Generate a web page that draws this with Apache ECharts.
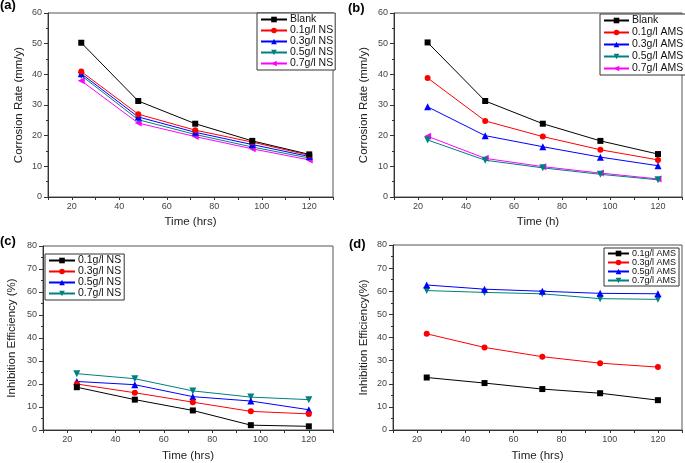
<!DOCTYPE html>
<html>
<head>
<meta charset="utf-8">
<script src="https://cdn.jsdelivr.net/npm/echarts@6/dist/echarts.min.js"></script>
<style>
html,body{margin:0;padding:0;background:#fff;}
#c{width:685px;height:463px;}
</style>
</head>
<body>
<div id="c"></div>
<script>
const times = [24, 48, 72, 96, 120];
const xTicks = [20, 40, 60, 80, 100, 120];

// (a) corrosion rate, NS
const aNames = ['Blank', '0.1g/l NS', '0.3g/l NS', '0.5g/l NS', '0.7g/l NS'];
const aBlank = [50.3, 31.3, 23.9, 18.3, 13.9];
const aNS01 = [40.9, 27.0, 21.8, 17.9, 13.6];
const aNS03 = [40.2, 26.1, 21.1, 17.1, 13.2];
const aNS05 = [39.6, 25.2, 20.4, 16.3, 12.7];
const aNS07 = [37.9, 24.1, 19.7, 15.7, 12.1];

// (b) corrosion rate, AMS
const bNames = ['Blank', '0.1g/l AMS', '0.3g/l AMS', '0.5g/l AMS', '0.7g/l AMS'];
const bBlank = [50.4, 31.3, 23.9, 18.3, 14.0];
const bAMS01 = [38.8, 24.8, 19.7, 15.4, 12.1];
const bAMS03 = [29.4, 20.0, 16.4, 13.0, 10.2];
const bAMS05 = [18.6, 12.0, 9.5, 7.4, 5.6];
const bAMS07 = [19.8, 12.6, 9.9, 7.8, 5.9];

// (c) inhibition efficiency, NS
const cNames = ['0.1g/l NS', '0.3g/l NS', '0.5g/l NS', '0.7g/l NS'];
const cNS01 = [18.6, 13.2, 8.5, 2.1, 1.6];
const cNS03 = [20.0, 16.2, 12.1, 8.1, 7.0];
const cNS05 = [21.1, 19.7, 14.5, 12.6, 8.8];
const cNS07 = [24.5, 22.3, 17.0, 14.3, 13.2];

// (d) inhibition efficiency, AMS
const dNames = ['0.1g/l AMS', '0.3g/l AMS', '0.5g/l AMS', '0.7g/l AMS'];
const dAMS01 = [22.7, 20.3, 17.7, 15.9, 12.9];
const dAMS03 = [41.6, 35.7, 31.7, 28.9, 27.2];
const dAMS05 = [62.7, 60.9, 60.0, 59.1, 58.9];
const dAMS07 = [60.3, 59.5, 58.9, 56.8, 56.5];

const colors = { black: '#000000', red: '#ff0000', blue: '#0000ff', teal: '#008080', magenta: '#ff00ff' };
const styles = [
  { c: colors.black, s: 'rect', r: 0, size: 6 },
  { c: colors.red, s: 'circle', r: 0, size: 6 },
  { c: colors.blue, s: 'triangle', r: 0, size: 7 },
  { c: colors.teal, s: 'triangle', r: 180, size: 7 },
  { c: colors.magenta, s: 'triangle', r: 90, size: 7 }
];

const grids = [
  { left: 48, top: 13, width: 285, height: 184 },
  { left: 394, top: 13, width: 288, height: 184 },
  { left: 43, top: 246, width: 290, height: 188 },
  { left: 393, top: 245, width: 291, height: 188 }
];

function xAxis(i, name, nameGap) {
  return {
    type: 'value', gridIndex: i, min: 10, max: 130, interval: 10,
    name: name, nameLocation: 'middle', nameGap: nameGap,
    nameTextStyle: { fontFamily: 'Liberation Sans', fontSize: 11.5, color: '#222' },
    axisLine: { show: true, lineStyle: { color: '#333', width: 1 } },
    axisTick: { show: true, inside: false, length: 3, lineStyle: { color: '#333' } },
    axisLabel: {
      fontFamily: 'Liberation Sans', fontSize: 9, color: '#444', margin: 5,
      formatter: v => (xTicks.indexOf(v) >= 0 ? String(v) : '')
    },
    splitLine: { show: false }
  };
}
function yAxis(i, max, name, nameGap) {
  return {
    type: 'value', gridIndex: i, min: 0, max: max, interval: 10,
    name: name, nameLocation: 'middle', nameGap: nameGap,
    nameTextStyle: { fontFamily: 'Liberation Sans', fontSize: 11.5, color: '#222' },
    axisLine: { show: true, lineStyle: { color: '#333', width: 1 } },
    axisTick: { show: true, inside: false, length: 4, lineStyle: { color: '#333' } },
    minorTick: { show: true, splitNumber: 2, length: 2, lineStyle: { color: '#333' } },
    axisLabel: { fontFamily: 'Liberation Sans', fontSize: 9, color: '#444', margin: 6 },
    splitLine: { show: false }
  };
}

// series names get a panel prefix so that legends in different panels stay independent
function makeSeries(prefix, names, arrays, gi) {
  return arrays.map((arr, k) => ({
    name: prefix + '|' + names[k], type: 'line', xAxisIndex: gi, yAxisIndex: gi,
    data: times.map((t, j) => [t, arr[j]]),
    symbol: styles[k].s, symbolRotate: styles[k].r, symbolSize: styles[k].size,
    lineStyle: { color: styles[k].c, width: 1 },
    itemStyle: { color: styles[k].c },
    z: 10 - k,
    animation: false
  }));
}

function legend(prefix, names, left, top, fontSize, gap, pad, iw) {
  return {
    data: names.map(n => prefix + '|' + n), orient: 'vertical', left: left, top: top,
    formatter: n => n.split('|')[1],
    itemWidth: iw, itemHeight: 7, itemGap: gap, padding: pad,
    borderColor: '#333', borderWidth: 1, backgroundColor: '#fff',
    textStyle: { fontFamily: 'Liberation Sans', fontSize: fontSize, color: '#111', padding: [0, 0, 0, -2] },
    selectedMode: false
  };
}

const titleStyle = { fontFamily: 'Liberation Sans', fontSize: 13, fontWeight: 'bold', color: '#000' };

const option = {
  backgroundColor: '#fff',
  animation: false,
  grid: grids.map(g => Object.assign({ show: true, borderColor: '#555', borderWidth: 1, backgroundColor: 'transparent' }, g)),
  xAxis: [
    xAxis(0, 'Time (hrs)', 19),
    xAxis(1, 'Time (h)', 19),
    xAxis(2, 'Time (hrs)', 20),
    xAxis(3, 'Time (hrs)', 20)
  ],
  yAxis: [
    yAxis(0, 60, 'Corrosion Rate (mm/y)', 23),
    yAxis(1, 60, 'Corrosion Rate (mm/y)', 24),
    yAxis(2, 80, 'Inhibition Efficiency (%)', 25),
    yAxis(3, 80, 'Inhibition Efficiency(%)', 23)
  ],
  legend: [
    legend('a', aNames, 257, 13, 10.5, 0, [1, 2, 1, 3], 26),
    legend('b', bNames, 600, 14, 10.5, 1, [1, 3, 1, 3], 25),
    legend('c', cNames, 45, 254, 10.5, 0, [1, 3, 1, 3], 26),
    legend('d', dNames, 604, 248, 9, 0, [1, 3, 1, 3], 21)
  ],
  title: [
    { text: '(a)', left: 0, top: -1, textStyle: titleStyle, padding: 0 },
    { text: '(b)', left: 348, top: 2, textStyle: titleStyle, padding: 0 },
    { text: '(c)', left: 0, top: 235, textStyle: titleStyle, padding: 0 },
    { text: '(d)', left: 349, top: 238, textStyle: titleStyle, padding: 0 }
  ],
  series: [].concat(
    makeSeries('a', aNames, [aBlank, aNS01, aNS03, aNS05, aNS07], 0),
    makeSeries('b', bNames, [bBlank, bAMS01, bAMS03, bAMS05, bAMS07], 1),
    makeSeries('c', cNames, [cNS01, cNS03, cNS05, cNS07], 2),
    makeSeries('d', dNames, [dAMS01, dAMS03, dAMS05, dAMS07], 3)
  )
};

const chart = echarts.init(document.getElementById('c'), null, { renderer: 'canvas' });
chart.setOption(option);
</script>
</body>
</html>
